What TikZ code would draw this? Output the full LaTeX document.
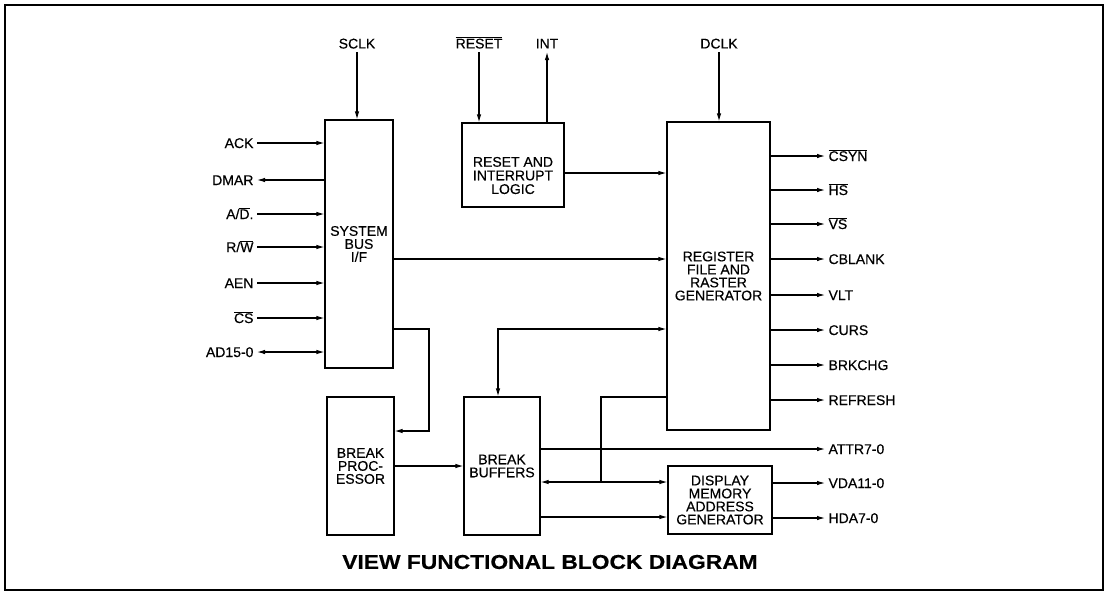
\documentclass[tikz,border=0pt]{standalone}
\usepackage{fontspec}
\setmainfont{Liberation Sans}
\usetikzlibrary{arrows.meta}
\newcommand\ovl[1]{$\overline{\hbox{#1}}$}
\begin{document}
\begin{tikzpicture}[x=1pt,y=-1pt, line width=1.1pt,
  every node/.style={font=\fontsize{14}{13}\selectfont\addfontfeature{FakeBold=0.4}},
  blk/.style={draw, rectangle, align=center, inner sep=0pt},
  lbl/.style={inner sep=3pt, text height=10pt, text depth=0pt},
  arr/.style={-{Latex[length=8pt,width=4.5pt]}},
  barr/.style={{Latex[length=8pt,width=4.5pt]}-{Latex[length=8pt,width=4.5pt]}}]
\useasboundingbox (0,0) rectangle (1107,592);
\draw[line width=1.8pt] (5,5) rectangle (1103,590);

% blocks
\node[blk, minimum width=68pt, minimum height=248pt] (sys) at (359,244) {SYSTEM\\BUS\\I/F};
\node[blk, minimum width=102pt, minimum height=84pt] (rst) at (513,165) {\raisebox{-16pt}[0pt][0pt]{\begin{tabular}{@{}c@{}}RESET AND\\INTERRUPT\\LOGIC\end{tabular}}};
\node[blk, minimum width=103pt, minimum height=308pt] (reg) at (718.5,276) {REGISTER\\FILE AND\\RASTER\\GENERATOR};
\node[blk, minimum width=67pt, minimum height=138pt] (bp) at (360.5,466) {BREAK\\PROC-\\ESSOR};
\node[blk, minimum width=76pt, minimum height=138pt] (bb) at (502,466) {BREAK\\BUFFERS};
\node[blk, minimum width=104pt, minimum height=68pt] (dma) at (720,500) {DISPLAY\\MEMORY\\ADDRESS\\GENERATOR};

% top signals
\node[lbl, anchor=south] (sclk) at (357,52) {SCLK};
\draw[arr] (sclk.south) -- (sclk.south |- sys.north);
\node[lbl, anchor=south] (reset) at (479,52) {\ovl{RESET}};
\draw[arr] (reset.south) -- (reset.south |- rst.north);
\node[lbl, anchor=south] (int) at (547,52) {INT};
\draw[arr] (int.south |- rst.north) -- (int.south);
\node[lbl, anchor=south] (dclk) at (719,52) {DCLK};
\draw[arr] (dclk.south) -- (dclk.south |- reg.north);

% left signals
\node[lbl, anchor=east] (ack) at (257,143) {ACK};
\draw[arr] (ack.east) -- (ack.east -| sys.west);
\node[lbl, anchor=east] (dmar) at (257,180) {DMAR};
\draw[arr] (dmar.east -| sys.west) -- (dmar.east);
\node[lbl, anchor=east] (ad) at (257,214) {A/\ovl{D}.};
\draw[arr] (ad.east) -- (ad.east -| sys.west);
\node[lbl, anchor=east] (rw) at (257,247) {R/\ovl{W}};
\draw[arr] (rw.east) -- (rw.east -| sys.west);
\node[lbl, anchor=east] (aen) at (257,283) {AEN};
\draw[arr] (aen.east) -- (aen.east -| sys.west);
\node[lbl, anchor=east] (cs) at (257,318) {\ovl{CS}};
\draw[arr] (cs.east) -- (cs.east -| sys.west);
\node[lbl, anchor=east] (adb) at (257,352) {AD15-0};
\draw[barr] (adb.east) -- (adb.east -| sys.west);

% right signals
\node[lbl, anchor=west] (csyn) at (825,156) {\ovl{CSYN}};
\draw[arr] (reg.east |- csyn.west) -- (csyn.west);
\node[lbl, anchor=west] (hs) at (825,190) {\ovl{HS}};
\draw[arr] (reg.east |- hs.west) -- (hs.west);
\node[lbl, anchor=west] (vs) at (825,224) {\ovl{VS}};
\draw[arr] (reg.east |- vs.west) -- (vs.west);
\node[lbl, anchor=west] (cblank) at (825,259) {CBLANK};
\draw[arr] (reg.east |- cblank.west) -- (cblank.west);
\node[lbl, anchor=west] (vlt) at (825,295) {VLT};
\draw[arr] (reg.east |- vlt.west) -- (vlt.west);
\node[lbl, anchor=west] (curs) at (825,330) {CURS};
\draw[arr] (reg.east |- curs.west) -- (curs.west);
\node[lbl, anchor=west] (brkchg) at (825,365) {BRKCHG};
\draw[arr] (reg.east |- brkchg.west) -- (brkchg.west);
\node[lbl, anchor=west] (refresh) at (825,400) {REFRESH};
\draw[arr] (reg.east |- refresh.west) -- (refresh.west);

\node[lbl, anchor=west] (attr) at (825,449) {ATTR7-0};
\draw[arr] (bb.east |- attr.west) -- (attr.west);
\node[lbl, anchor=west] (vda) at (825,483) {VDA11-0};
\draw[arr] (dma.east |- vda.west) -- (vda.west);
\node[lbl, anchor=west] (hda) at (825,518) {HDA7-0};
\draw[arr] (dma.east |- hda.west) -- (hda.west);

% internal connections
\draw[arr] (rst.east |- 0,173) -- (reg.west |- 0,173);
\draw[arr] (sys.east |- 0,259) -- (reg.west |- 0,259);
\draw[arr] (sys.east |- 0,329) -| (429,431) -- (bp.east |- 0,431);
\draw[arr] (bp.east |- 0,466) -- (bb.west |- 0,466);
\draw[barr] (bb.north -| 498,0) -- (498,329) -- (reg.west |- 0,329);
\draw (reg.west |- 0,397) -- (601,397) -- (601,482);
\draw[barr] (bb.east |- 0,482) -- (dma.west |- 0,482);
\draw[arr] (bb.east |- 0,517) -- (dma.west |- 0,517);

% title
\node (title) at (550,562) {\fontsize{20}{20}\selectfont\bfseries\scalebox{1.14}[1]{VIEW FUNCTIONAL BLOCK DIAGRAM}};
\end{tikzpicture}
\end{document}
